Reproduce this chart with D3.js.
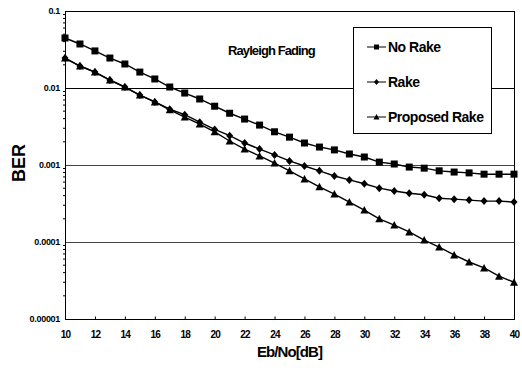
<!DOCTYPE html>
<html>
<head>
<meta charset="utf-8">
<script src="https://cdn.jsdelivr.net/npm/d3@7"></script>
<style>
  body { margin: 0; background: #fff; }
  svg { display: block; }
  text { font-family: 'Liberation Sans', Arial, sans-serif; fill: #000; }
</style>
</head>
<body>
<svg></svg>
<script>
// data

const ebno = d3.range(10, 41);

const noRake = [0.0446, 0.0373, 0.0303, 0.0245, 0.0205, 0.0161, 0.0131, 0.0103, 0.0086, 0.0072,
  0.0058, 0.0047, 0.00395, 0.0033, 0.0027, 0.0023, 0.00193, 0.00171, 0.00157, 0.00139,
  0.00127, 0.00109, 0.00103, 0.00094, 0.00091, 0.00084, 0.00081, 0.00079, 0.00076, 0.00076, 0.00076];

const rake = [0.0245, 0.0193, 0.0161, 0.0127, 0.0103, 0.0081, 0.0066, 0.0053, 0.0045, 0.0036,
  0.0029, 0.0024, 0.00193, 0.00161, 0.00135, 0.00113, 0.00097, 0.00084, 0.00072, 0.00064,
  0.00057, 0.0005, 0.00046, 0.00043, 0.00041, 0.00037, 0.00036, 0.00035, 0.00034, 0.00034, 0.00033];

const proposedRake = [0.0245, 0.0193, 0.0161, 0.0127, 0.0103, 0.0081, 0.0066, 0.0052, 0.0042, 0.0034,
  0.0027, 0.00205, 0.00161, 0.00131, 0.00106, 0.00084, 0.00066, 0.00052, 0.00042, 0.00033,
  0.00026, 0.0002, 0.000166, 0.000135, 0.000106, 0.000086, 0.000068, 0.000055, 0.000046, 0.000036, 0.00003];

const yTicks = [0.1, 0.01, 0.001, 0.0001, 0.00001];
const yTickLabels = ['0.1', '0.01', '0.001', '0.0001', '0.00001'];
const xTicks = d3.range(10, 41, 2);

const seriesNames = ['No Rake', 'Rake', 'Proposed Rake'];
const seriesValues = [noRake, rake, proposedRake];
const seriesMarkers = ['square', 'diamond', 'triangle'];


// root svg

const W = 522, H = 368;
const plot = { left: 65, right: 514, top: 11, bottom: 319 };

const svg = d3.select('svg')
  .attr('width', W)
  .attr('height', H);

const x = d3.scaleLinear().domain([10, 40]).range([plot.left, plot.right]);
const y = d3.scaleLog().domain([1e-5, 0.1]).range([plot.bottom, plot.top]);


// grid lines

svg.append('g')
  .selectAll('line')
  .data(yTicks.slice(1, 4))
  .join('line')
    .attr('x1', plot.left)
    .attr('x2', plot.right)
    .attr('y1', d => Math.round(y(d)) + 0.5)
    .attr('y2', d => Math.round(y(d)) + 0.5)
    .attr('stroke', (d, i) => i === 0 ? '#000' : '#444')
    .attr('stroke-width', 1);


// frame

svg.append('rect')
  .attr('x', plot.left + 0.5)
  .attr('y', plot.top + 0.5)
  .attr('width', plot.right - plot.left)
  .attr('height', plot.bottom - plot.top)
  .attr('fill', 'none')
  .attr('stroke', '#000');


// y axis

const yAxis = d3.axisLeft(y)
  .tickValues(yTicks)
  .tickFormat((d, i) => yTickLabels[i])
  .tickSize(0)
  .tickPadding(5);

const yAxisG = svg.append('g')
  .attr('transform', `translate(${plot.left},0)`)
  .call(yAxis);

yAxisG.select('.domain').remove();
yAxisG.selectAll('text')
  .style('font-size', '9px')
  .style('font-weight', 'bold')
  .style('letter-spacing', '-0.3px')
  .attr('fill', '#000');

// minor log ticks
const minor = [];
yTicks.slice(1).forEach(p => { for (let k = 2; k <= 9; k++) minor.push(p * k); });

svg.append('g')
  .selectAll('line')
  .data(minor)
  .join('line')
    .attr('x1', plot.left - 2)
    .attr('x2', plot.left)
    .attr('y1', d => y(d))
    .attr('y2', d => y(d))
    .attr('stroke', '#000')
    .attr('stroke-width', 1);


// x axis

const xAxis = d3.axisBottom(x)
  .tickValues(xTicks)
  .tickSize(-3)
  .tickPadding(11);

const xAxisG = svg.append('g')
  .attr('transform', `translate(0,${plot.bottom + 0.5})`)
  .call(xAxis);

xAxisG.select('.domain').remove();
xAxisG.selectAll('.tick line').attr('stroke', '#000');
xAxisG.selectAll('text')
  .style('font-size', '10px')
  .style('font-weight', 'bold')
  .style('letter-spacing', '-0.8px')
  .attr('fill', '#000');


// axis titles

svg.append('text')
  .attr('x', (plot.left + plot.right) / 2)
  .attr('y', 357)
  .attr('text-anchor', 'middle')
  .style('font-size', '15px')
  .style('font-weight', 'bold')
  .style('letter-spacing', '-0.9px')
  .text('Eb/No[dB]');

svg.append('text')
  .attr('transform', 'translate(25,163) rotate(-90)')
  .attr('text-anchor', 'middle')
  .style('font-size', '18px')
  .style('font-weight', 'bold')
  .text('BER');

svg.append('text')
  .attr('x', 228)
  .attr('y', 55)
  .style('font-size', '13px')
  .style('font-weight', 'bold')
  .style('letter-spacing', '-0.9px')
  .text('Rayleigh Fading');


// markers

function marker(g, type, size) {
  const s = size / 2;
  if (type === 'square') {
    g.append('rect').attr('x', -s).attr('y', -s).attr('width', size).attr('height', size);
  } else if (type === 'diamond') {
    g.append('path').attr('d', `M0,${-s - 0.5}L${s},0L0,${s + 0.5}L${-s},0Z`);
  } else {
    g.append('path').attr('d', `M0,${-s - 0.5}L${s + 0.5},${s}L${-s - 0.5},${s}Z`);
  }
}


// lines

const line = d3.line()
  .x((d, i) => x(ebno[i]))
  .y(d => y(d));

seriesValues.forEach((vals, k) => {
  const g = svg.append('g');

  g.append('path')
    .attr('d', line(vals))
    .attr('fill', 'none')
    .attr('stroke', '#000')
    .attr('stroke-width', 1.4);

  g.selectAll('g')
    .data(vals)
    .join('g')
      .attr('transform', (d, i) => `translate(${x(ebno[i])},${y(d)})`)
      .attr('fill', '#000')
      .each(function() { marker(d3.select(this), seriesMarkers[k], 7); });
});


// legend

const legendG = svg.append('g')
  .attr('transform', 'translate(353,27)');

legendG.append('rect')
  .attr('x', 0.5)
  .attr('y', 0.5)
  .attr('width', 138)
  .attr('height', 106)
  .attr('fill', '#fff')
  .attr('stroke', '#000');

legendG.selectAll('g')
  .data(seriesNames)
  .join('g')
    .attr('transform', (d, i) => `translate(0,${20 + i * 35})`)
    .each(function(d, i) {
      const g = d3.select(this);
      g.append('line')
        .attr('x1', 14).attr('x2', 33)
        .attr('y1', 0).attr('y2', 0)
        .attr('stroke', '#000');
      const m = g.append('g').attr('transform', 'translate(23.5,0)').attr('fill', '#000');
      marker(m, seriesMarkers[i], 5);
      g.append('text')
        .attr('x', 35)
        .attr('y', 5)
        .style('font-size', '14px')
        .style('font-weight', 'bold')
        .style('letter-spacing', '-0.5px')
        .text(d);
    });
</script>
</body>
</html>
